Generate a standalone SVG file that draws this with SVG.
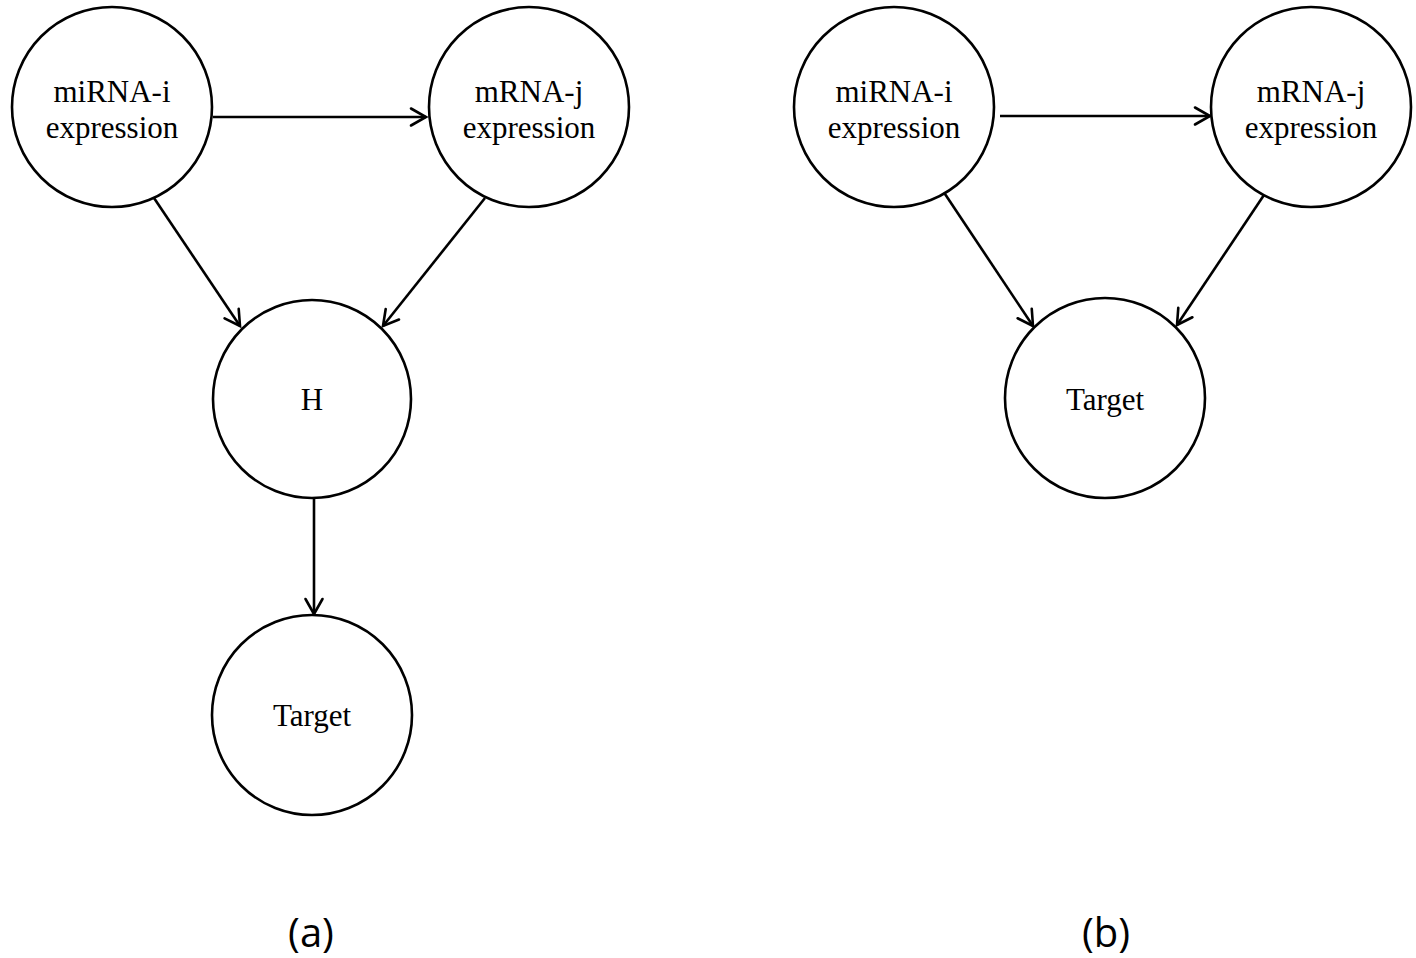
<svg xmlns="http://www.w3.org/2000/svg" width="1416" height="958" viewBox="0 0 1416 958">
<style>
.node circle{fill:#fff;stroke:#000;stroke-width:2.6}
.node text{font-family:"Liberation Serif","Times New Roman",serif;font-size:31px;fill:#000;text-anchor:middle}
.edge{stroke:#000;stroke-width:2.6;fill:none;marker-end:url(#arr)}
.cap{font-family:"Open Sans","Liberation Sans",sans-serif;font-size:40px;fill:#000;text-anchor:middle}
</style>
<defs>
<marker id="arr" markerUnits="userSpaceOnUse" markerWidth="30" markerHeight="30" viewBox="-20 -15 30 30" refX="0" refY="0" orient="auto">
<path d="M-15,-8.5 L0,0 L-15,8.5" fill="none" stroke="#000" stroke-width="2.6" stroke-linecap="round" stroke-linejoin="miter"/>
</marker>
</defs>
<rect width="1416" height="958" fill="#fff"/>
<g id="connectors">
<line class="edge" x1="213" y1="117" x2="426" y2="117"/>
<line class="edge" x1="154" y1="198" x2="240" y2="326"/>
<line class="edge" x1="485" y1="198" x2="383" y2="326"/>
<line class="edge" x1="314" y1="497" x2="314" y2="614"/>
<line class="edge" x1="1000" y1="116" x2="1210" y2="116"/>
<line class="edge" x1="943" y1="191" x2="1033" y2="326"/>
<line class="edge" x1="1266" y1="192" x2="1177" y2="325"/>
</g>
<g id="a-mirna" class="node"><circle cx="112" cy="107" r="100"/><text x="112" y="102">miRNA-i</text><text x="112" y="138">expression</text></g>
<g id="a-mrna" class="node"><circle cx="529" cy="107" r="100"/><text x="529" y="102">mRNA-j</text><text x="529" y="138">expression</text></g>
<g id="a-h" class="node"><circle cx="312" cy="399" r="99"/><text x="312" y="410">H</text></g>
<g id="a-target" class="node"><circle cx="312" cy="715" r="100"/><text x="312" y="726">Target</text></g>
<g id="b-mirna" class="node"><circle cx="894" cy="107" r="100"/><text x="894" y="102">miRNA-i</text><text x="894" y="138">expression</text></g>
<g id="b-mrna" class="node"><circle cx="1311" cy="107" r="100"/><text x="1311" y="102">mRNA-j</text><text x="1311" y="138">expression</text></g>
<g id="b-target" class="node"><circle cx="1105" cy="398" r="100"/><text x="1105" y="410">Target</text></g>
<text class="cap" x="311" y="947">(a)</text>
<text class="cap" x="1106" y="947">(b)</text>
</svg>
